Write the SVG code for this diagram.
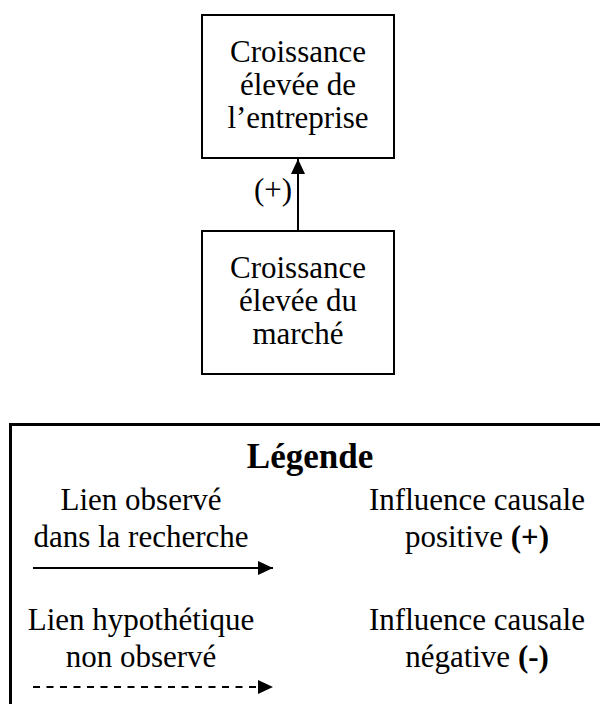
<svg xmlns="http://www.w3.org/2000/svg" width="600" height="704" viewBox="0 0 600 704">
  <defs>
    <marker id="arrow" viewBox="0 0 15 14" refX="15" refY="7" markerWidth="15" markerHeight="14" markerUnits="userSpaceOnUse" orient="auto">
      <path d="M0,0 L15,7 L0,14 Z" fill="#000"/>
    </marker>
    <style>
      .box { fill: #fff; stroke: #000; stroke-width: 2; }
      .txt { font-family: "Liberation Serif", "Times New Roman", serif; font-size: 31px; fill: #000; text-anchor: middle; }
      .bold { font-weight: bold; }
      .link { stroke: #000; stroke-width: 2; fill: none; }
      .dash { stroke-dasharray: 7 6.5; }
    </style>
  </defs>

  <!-- causal nodes -->
  <g id="croissance-entreprise">
    <rect class="box" x="202" y="15" width="192" height="143"/>
    <text class="txt" x="298" y="62">Croissance</text>
    <text class="txt" x="298" y="95">élevée de</text>
    <text class="txt" x="298" y="128">l’entreprise</text>
  </g>

  <g id="croissance-marche">
    <rect class="box" x="202" y="231" width="192" height="143"/>
    <text class="txt" x="298" y="278">Croissance</text>
    <text class="txt" x="298" y="311">élevée du</text>
    <text class="txt" x="298" y="344">marché</text>
  </g>

  <!-- connectors -->
  <g id="connectors">
    <line class="link" x1="298" y1="231" x2="298" y2="159" marker-end="url(#arrow)"/>
    <text class="txt" x="273" y="200">(+)</text>
  </g>

  <!-- legend -->
  <g id="legende">
    <rect x="10.5" y="424.5" width="600" height="300" fill="none" stroke="#000" stroke-width="3"/>
    <text class="txt bold" x="310" y="468" style="font-size:35px">Légende</text>
    <text class="txt" x="141" y="510">Lien observé</text>
    <text class="txt" x="141" y="547">dans la recherche</text>
    <line class="link" x1="33" y1="568" x2="273" y2="568" marker-end="url(#arrow)"/>
    <text class="txt" x="141" y="630">Lien hypothétique</text>
    <text class="txt" x="141" y="667">non observé</text>
    <line class="link dash" x1="33" y1="687" x2="273" y2="687" marker-end="url(#arrow)"/>
    <text class="txt" x="477" y="510">Influence causale</text>
    <text class="txt" x="477" y="547">positive <tspan class="bold">(+)</tspan></text>
    <text class="txt" x="477" y="630">Influence causale</text>
    <text class="txt" x="477" y="667">négative <tspan class="bold">(-)</tspan></text>
  </g>
</svg>
